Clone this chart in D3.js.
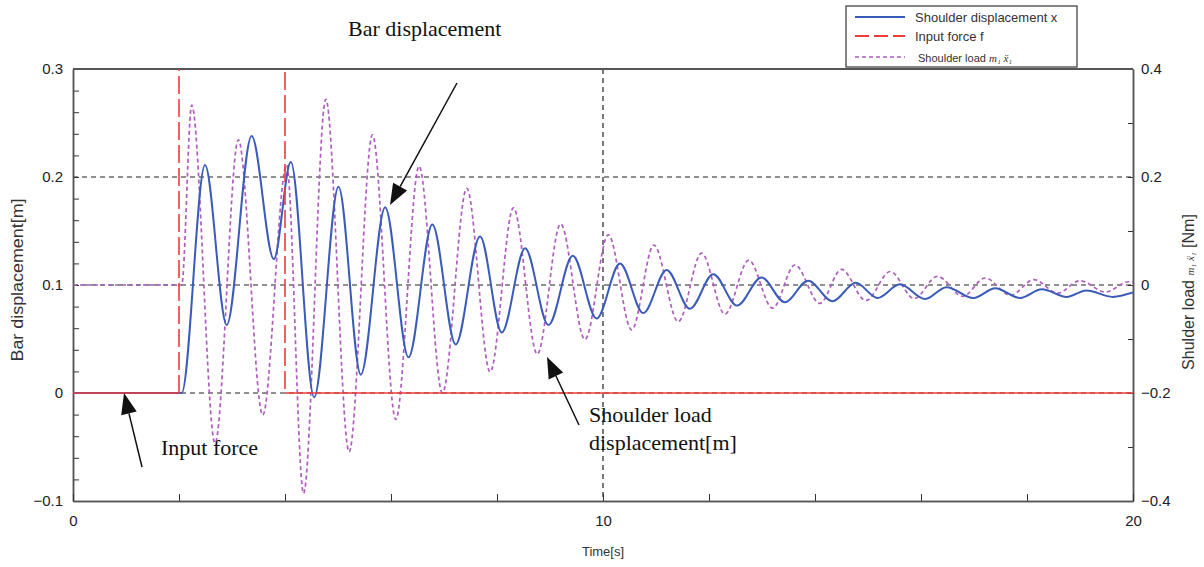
<!DOCTYPE html>
<meta charset="utf-8">
<style>
body { margin: 0; background: #fff; }
svg { display: block; }
.tick text { font-family: "Liberation Sans", Arial, sans-serif; font-size: 15px; fill: #222; }
.ann { font-family: "Liberation Serif", "Times New Roman", serif; font-size: 22px; fill: #111; }
.lab { font-family: "Liberation Sans", Arial, sans-serif; fill: #333; }
</style>
<svg width="1204" height="567"></svg>
<script src="https://cdn.jsdelivr.net/npm/d3@7"></script>
<script>

// time [s] and bar (shoulder) displacement [m], left axis
var dispT = [0, 2.05, 2.49, 2.90, 3.37, 3.79, 4.11, 4.55, 5.01, 5.43, 5.89, 6.33, 6.78, 7.22, 7.68, 8.09,
  8.53, 8.97, 9.43, 9.88, 10.32, 10.76, 11.20, 11.64, 12.08, 12.53, 12.99, 13.43, 13.87, 14.33, 14.77,
  15.18, 15.60, 16.08, 16.48, 16.99, 17.40, 17.87, 18.28, 18.75, 19.12, 19.62, 20];
var dispV = [0, 0, 0.211, 0.063, 0.238, 0.124, 0.214, -0.004, 0.191, 0.017, 0.172, 0.033, 0.156, 0.045, 0.145, 0.056,
  0.134, 0.063, 0.127, 0.069, 0.120, 0.074, 0.114, 0.078, 0.110, 0.081, 0.107, 0.084, 0.104, 0.085, 0.102,
  0.088, 0.1006, 0.087, 0.098, 0.088, 0.097, 0.088, 0.096, 0.089, 0.095, 0.089, 0.093];

// shoulder load m1*x1'' [Nm], right axis
var loadT = [0, 2.05, 2.24, 2.68, 3.12, 3.58, 4.03, 4.35, 4.77, 5.21, 5.65, 6.09, 6.53, 6.97, 7.43, 7.87,
  8.31, 8.76, 9.20, 9.66, 10.10, 10.54, 10.96, 11.42, 11.86, 12.30, 12.75, 13.20, 13.62, 14.09, 14.50,
  14.96, 15.42, 15.87, 16.31, 16.79, 17.21, 17.69, 18.13, 18.58, 19.0, 19.48, 19.92, 20];
var loadV = [0, 0, 0.333, -0.293, 0.269, -0.241, 0.222, -0.386, 0.344, -0.309, 0.278, -0.249, 0.220, -0.2, 0.179, -0.161,
  0.143, -0.128, 0.113, -0.101, 0.093, -0.083, 0.074, -0.068, 0.059, -0.054, 0.046, -0.043, 0.037, -0.034, 0.029,
  -0.029, 0.025, -0.025, 0.016, -0.021, 0.013, -0.019, 0.010, -0.015, 0.008, -0.013, 0.006, 0.005];

// input force f (pulse between 2 s and 4 s, off the top of the chart)
var forceT = [0, 2, 2, 4, 4, 20];
var forceV = [0, 0, 1, 1, 0, 0];

var xTickVals = [0, 10, 20];
var xTickLabels = ["0", "10", "20"];
var leftTickVals = [-0.1, 0, 0.1, 0.2, 0.3];
var leftTickLabels = ["\u22120.1", "0", "0.1", "0.2", "0.3"];
var rightTickVals = [-0.4, -0.2, 0, 0.2, 0.4];
var rightTickLabels = ["\u22120.4", "\u22120.2", "0", "0.2", "0.4"];
var gridLeftVals = [0, 0.1, 0.2];
var gridTimeVals = [10];

var blue = "#3a5bb8", red = "#ee3b3b", purple = "#b05cc0";

var svg = d3.select("svg");
var pL = 73, pR = 1133, pT = 69, pB = 501;

var x = d3.scaleLinear().domain([0, 20]).range([pL, pR]);
var y = d3.scaleLinear().domain([-0.1, 0.3]).range([pB, pT]);
var y2 = d3.scaleLinear().domain([-0.4, 0.4]).range([pB, pT]);

svg.append("defs").append("clipPath").attr("id", "clip")
  .append("rect").attr("x", pL).attr("y", pT).attr("width", pR - pL).attr("height", pB - pT);

// grid
svg.append("g").selectAll("line").data(gridLeftVals).enter().append("line")
  .attr("x1", pL).attr("x2", pR)
  .attr("y1", function(d) { return y(d); }).attr("y2", function(d) { return y(d); })
  .attr("stroke", "#222").attr("stroke-width", 1.2).attr("stroke-dasharray", "5,4");
svg.append("g").selectAll("line").data(gridTimeVals).enter().append("line")
  .attr("x1", function(d) { return x(d); }).attr("x2", function(d) { return x(d); })
  .attr("y1", pT).attr("y2", pB)
  .attr("stroke", "#222").attr("stroke-width", 1.2).attr("stroke-dasharray", "5,4");

// axes
function styleAxis(g) {
  g.select(".domain").attr("stroke", "#555").attr("stroke-width", 1.5);
  g.selectAll(".tick line").attr("stroke", "#333");
}
svg.append("g").attr("transform", "translate(" + pL + ",0)")
  .call(d3.axisLeft(y).tickValues(d3.range(-0.1, 0.3001, 0.02)).tickSize(-6).tickFormat("").tickSizeOuter(0)).call(styleAxis);
svg.append("g").attr("transform", "translate(" + pL + ",0)")
  .call(d3.axisLeft(y).tickValues(leftTickVals).tickSize(0).tickPadding(10).tickSizeOuter(0)
    .tickFormat(function(d, i) { return leftTickLabels[i]; })).call(styleAxis);

svg.append("g").attr("transform", "translate(" + pR + ",0)")
  .call(d3.axisRight(y2).tickValues(d3.range(-0.4, 0.4001, 0.1)).tickSize(-5).tickFormat("").tickSizeOuter(0)).call(styleAxis);
svg.append("g").attr("transform", "translate(" + pR + ",0)")
  .call(d3.axisRight(y2).tickValues(rightTickVals).tickSize(0).tickPadding(8).tickSizeOuter(0)
    .tickFormat(function(d, i) { return rightTickLabels[i]; })).call(styleAxis);

svg.append("g").attr("transform", "translate(0," + pB + ")")
  .call(d3.axisBottom(x).tickValues(d3.range(0, 20.01, 2)).tickSize(-7).tickFormat("").tickSizeOuter(0)).call(styleAxis);
svg.append("g").attr("transform", "translate(0," + pB + ")")
  .call(d3.axisBottom(x).tickValues(xTickVals).tickSize(0).tickPadding(14).tickSizeOuter(0)
    .tickFormat(function(d, i) { return xTickLabels[i]; })).call(styleAxis);

// top frame
svg.append("line").attr("x1", pL).attr("x2", pR).attr("y1", pT).attr("y2", pT)
  .attr("stroke", "#555").attr("stroke-width", 2);

var plot = svg.append("g").attr("clip-path", "url(#clip)");

var loadLine = d3.line().curve(d3.curveMonotoneX)
  .x(function(d, i) { return x(loadT[i]); }).y(function(d) { return y2(d); });
plot.append("path").datum(loadV).attr("d", loadLine)
  .attr("fill", "none").attr("stroke", purple).attr("stroke-width", 1.7).attr("stroke-dasharray", "4,3");

var dispLine = d3.line().curve(d3.curveMonotoneX)
  .x(function(d, i) { return x(dispT[i]); }).y(function(d) { return y(d); });
plot.append("path").datum(dispV).attr("d", dispLine)
  .attr("fill", "none").attr("stroke", blue).attr("stroke-width", 2);

// input force: horizontal parts solid, vertical jumps dashed (drawn on top)
var forceSeg = d3.range(forceT.length - 1).map(function(i) {
  return { t0: forceT[i], v0: forceV[i], t1: forceT[i + 1], v1: forceV[i + 1] };
});
plot.selectAll(".force").data(forceSeg).enter().append("line")
  .attr("x1", function(d) { return x(d.t0); }).attr("x2", function(d) { return x(d.t1); })
  .attr("y1", function(d) { return y(d.v0); }).attr("y2", function(d) { return y(d.v1); })
  .attr("stroke", red).attr("stroke-width", 1.6)
  .attr("stroke-dasharray", function(d) { return d.t0 === d.t1 ? "18,5" : null; });

// axis titles
svg.append("text").attr("class", "lab").attr("font-size", 16)
  .attr("transform", "translate(23,280) rotate(-90)").attr("text-anchor", "middle")
  .attr("textLength", 163).attr("lengthAdjust", "spacingAndGlyphs")
  .text("Bar displacement[m]");
svg.append("text").attr("class", "lab").attr("font-size", 13)
  .attr("x", x(10)).attr("y", 556).attr("text-anchor", "middle").text("Time[s]");
var rt = svg.append("text").attr("class", "lab").attr("font-size", 16)
  .attr("transform", "translate(1194,292) rotate(-90)").attr("text-anchor", "middle");
rt.append("tspan").text("Shulder load   ");
rt.append("tspan").attr("font-style", "italic").attr("font-family", "Liberation Serif, serif").attr("font-size", 11).text("m\u2081 \u1E8D\u2081");
rt.append("tspan").text("    [Nm]");

// annotations with arrows
var arrows = [
  { x1: 457, y1: 83, x2: 390, y2: 205 },
  { x1: 142, y1: 467, x2: 124, y2: 393 },
  { x1: 579, y1: 425, x2: 547, y2: 357 }
];
arrows.forEach(function(a) {
  var ang = Math.atan2(a.y2 - a.y1, a.x2 - a.x1), L = 21, W = 8;
  var bx = a.x2 - L * Math.cos(ang), by = a.y2 - L * Math.sin(ang);
  svg.append("line").attr("x1", a.x1).attr("y1", a.y1).attr("x2", bx).attr("y2", by)
    .attr("stroke", "#111").attr("stroke-width", 1.5);
  svg.append("path").attr("fill", "#111").attr("d",
    "M" + a.x2 + "," + a.y2 +
    "L" + (bx + W * Math.sin(ang)) + "," + (by - W * Math.cos(ang)) +
    "L" + (bx - W * Math.sin(ang)) + "," + (by + W * Math.cos(ang)) + "Z");
});
svg.append("text").attr("class", "ann").attr("x", 348).attr("y", 36).text("Bar displacement");
svg.append("text").attr("class", "ann").attr("x", 161).attr("y", 455).text("Input force");
svg.append("text").attr("class", "ann").attr("x", 589).attr("y", 422).text("Shoulder load");
svg.append("text").attr("class", "ann").attr("x", 589).attr("y", 450).text("displacement[m]");

// legend
var lg = svg.append("g");
lg.append("rect").attr("x", 846).attr("y", 6).attr("width", 231).attr("height", 61)
  .attr("fill", "#fff").attr("stroke", "#444").attr("stroke-width", 1.3);
var legItems = [
  { label: "Shoulder displacement x", color: blue, dash: null, w: 2, yy: 17, size: 13 },
  { label: "Input force f", color: red, dash: "14,5", w: 1.8, yy: 36, size: 13 },
  { label: "Shoulder load ", color: purple, dash: "4,3", w: 1.7, yy: 57, size: 11 }
];
legItems.forEach(function(d, i) {
  lg.append("line").attr("x1", 855).attr("x2", 905).attr("y1", d.yy).attr("y2", d.yy)
    .attr("stroke", d.color).attr("stroke-width", d.w).attr("stroke-dasharray", d.dash);
  var t = lg.append("text").attr("class", "lab").attr("x", i === 2 ? 918 : 915).attr("y", d.yy + 5)
    .attr("font-size", d.size).attr("fill", "#222").text(d.label);
  if (i === 2) {
    t.append("tspan").attr("font-style", "italic").attr("font-family", "Liberation Serif, serif").text("m\u2081 \u1E8D\u2081");
  }
});

</script>
